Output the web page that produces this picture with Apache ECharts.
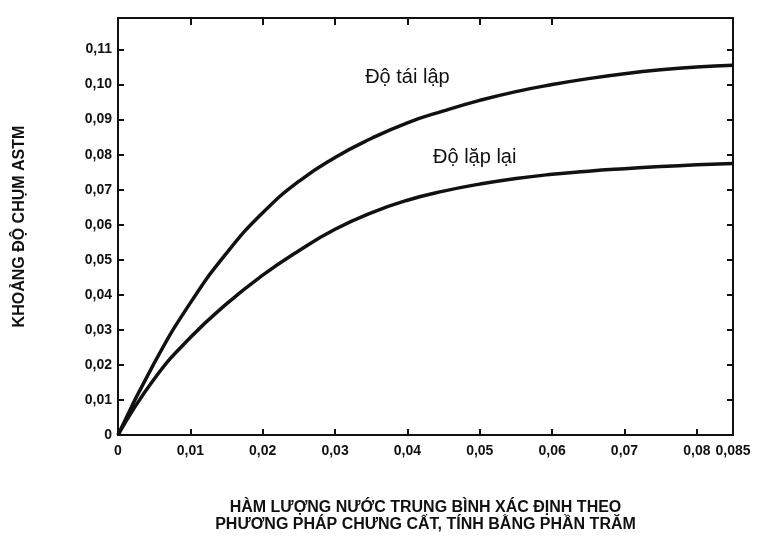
<!DOCTYPE html>
<html>
<head>
<meta charset="utf-8">
<script src="https://cdn.jsdelivr.net/npm/echarts@6/dist/echarts.min.js"></script>
<style>
  html, body { margin: 0; padding: 0; background: #fff; }
  #chart { width: 757px; height: 540px; }
</style>
</head>
<body>
<div id="chart"></div>
<script>
// both curves are read every 0.005 along x
var curveX = [0, 0.005, 0.01, 0.015, 0.02, 0.025, 0.03, 0.035, 0.04, 0.045, 0.05, 0.055, 0.06, 0.065, 0.07, 0.075, 0.08, 0.085];
// do tai lap (reproducibility)
var reproY = [0, 0.0205, 0.0377, 0.0519, 0.0634, 0.0724, 0.0792, 0.0846, 0.0891, 0.0925, 0.0955, 0.098, 0.1, 0.1017, 0.1031, 0.1042, 0.105, 0.1055];
// do lap lai (repeatability)
var repeatY = [0, 0.016, 0.0278, 0.0374, 0.0456, 0.0526, 0.0587, 0.0634, 0.067, 0.0696, 0.0716, 0.0732, 0.0744, 0.0753, 0.076, 0.0766, 0.0771, 0.0775];

var xTicks = [0, 0.01, 0.02, 0.03, 0.04, 0.05, 0.06, 0.07, 0.08, 0.085];
var topTicks = [0.01, 0.02, 0.03, 0.04, 0.05, 0.06];
var yTicks = [0, 0.01, 0.02, 0.03, 0.04, 0.05, 0.06, 0.07, 0.08, 0.09, 0.10, 0.11];

var curveNames = ['Độ tái lập', 'Độ lặp lại'];
// centre of each curve name, in data units
var nameAt = [[0.04, 0.1019], [0.0493, 0.0793]];

var xTitle = 'HÀM LƯỢNG NƯỚC TRUNG BÌNH XÁC ĐỊNH THEO\nPHƯƠNG PHÁP CHƯNG CẤT, TÍNH BẰNG PHẦN TRĂM';
var yTitle = 'KHOẢNG ĐỘ CHỤM ASTM';

function pairs(xs, ys) {
    var out = [];
    for (var i = 0; i < xs.length; i++) out.push([xs[i], ys[i]]);
    return out;
}

function fmt(v) {
    if (v === 0) return '0';
    var s = Math.round(v * 1000) % 10 ? v.toFixed(3) : v.toFixed(2);
    return s.replace('.', ',');
}

var font = '"Liberation Sans", Arial, sans-serif';
var black = '#111';

var axisLine = { show: true, onZero: false, lineStyle: { color: black, width: 2 } };
var tickStyle = { color: black, width: 2 };
var labelStyle = { color: black, fontFamily: font, fontWeight: 'bold', fontSize: 14 };

var chart = echarts.init(document.getElementById('chart'));

chart.setOption({
    animation: false,
    grid: { left: 118, right: 24, top: 18, bottom: 105 },
    xAxis: [{
        type: 'value',
        position: 'bottom',
        min: 0,
        max: 0.085,
        axisLine: axisLine,
        splitLine: { show: false },
        axisTick: { inside: true, length: 6, customValues: xTicks, lineStyle: tickStyle },
        axisLabel: Object.assign({ customValues: xTicks, formatter: fmt, margin: 9 }, labelStyle),
        name: xTitle,
        nameLocation: 'middle',
        nameGap: 64,
        nameTextStyle: { color: black, fontFamily: font, fontWeight: 'bold', fontSize: 16, lineHeight: 17 }
    }, {
        type: 'value',
        position: 'top',
        min: 0,
        max: 0.085,
        axisLine: axisLine,
        splitLine: { show: false },
        axisTick: { inside: true, length: 7, customValues: topTicks, lineStyle: tickStyle },
        axisLabel: { show: false }
    }],
    yAxis: [{
        type: 'value',
        position: 'left',
        min: 0,
        max: 0.119,
        axisLine: axisLine,
        splitLine: { show: false },
        axisTick: { inside: true, length: 6, customValues: yTicks, lineStyle: tickStyle },
        axisLabel: Object.assign({ customValues: yTicks, formatter: fmt, margin: 6 }, labelStyle),
        name: yTitle,
        nameLocation: 'middle',
        nameGap: 90,
        nameTextStyle: { color: black, fontFamily: font, fontWeight: 'bold', fontSize: 16 }
    }, {
        type: 'value',
        position: 'right',
        min: 0,
        max: 0.119,
        axisLine: axisLine,
        splitLine: { show: false },
        axisTick: { inside: true, length: 6, customValues: yTicks.slice(1), lineStyle: tickStyle },
        axisLabel: { show: false }
    }],
    series: [{
        name: curveNames[0],
        type: 'line',
        smooth: true,
        showSymbol: false,
        data: pairs(curveX, reproY),
        lineStyle: { color: black, width: 3.5 }
    }, {
        name: curveNames[1],
        type: 'line',
        smooth: true,
        showSymbol: false,
        data: pairs(curveX, repeatY),
        lineStyle: { color: black, width: 3.5 }
    }]
});

// curve names placed through the grid's own scale
chart.setOption({
    graphic: curveNames.map(function (name, i) {
        var p = chart.convertToPixel({ gridIndex: 0 }, nameAt[i]);
        return {
            type: 'text',
            x: p[0],
            y: p[1],
            style: {
                text: name, fill: black, font: '20px ' + font,
                textAlign: 'center', textVerticalAlign: 'middle'
            }
        };
    })
});
</script>
</body>
</html>
